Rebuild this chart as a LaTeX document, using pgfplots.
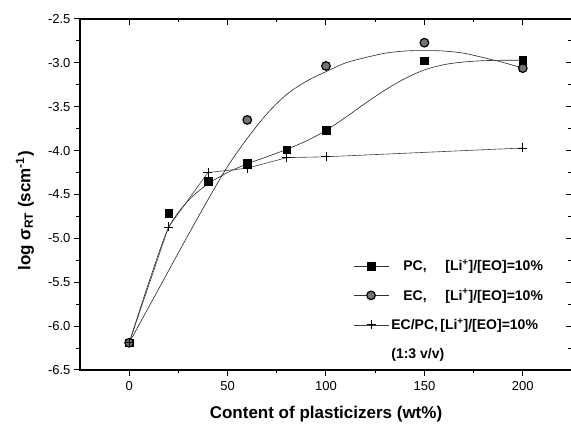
\documentclass[border=0pt]{standalone}
\usepackage{fontspec}
\setmainfont{Liberation Sans}
\usepackage{pgfplots}
\pgfplotsset{compat=1.18}

% Measured conductivities
\pgfplotstableread{
x y
0 -6.19
20 -4.71
40 -4.35
60 -4.14
80 -3.99
100 -3.77
150 -2.975
200 -2.97
}\pcdata
\pgfplotstableread{
x y
0 -6.19
60 -3.65
100 -3.035
150 -2.77
200 -3.06
}\ecdata
\pgfplotstableread{
x y
0 -6.19
20 -4.87
40 -4.25
60 -4.20
80 -4.08
100 -4.07
200 -3.97
}\ecpcdata
% Fitted trend lines
\pgfplotstableread{
x y
0 -6.19
10 -5.50
20 -4.88
30 -4.57
40 -4.38
50 -4.25
60 -4.15
70 -4.07
80 -3.985
90 -3.89
100 -3.77
110 -3.62
120 -3.46
130 -3.31
140 -3.18
150 -3.08
160 -3.02
170 -2.99
180 -2.975
190 -2.97
200 -2.97
}\pcfit
\pgfplotstableread{
x y
0 -6.19
10 -5.78
20 -5.37
30 -4.96
40 -4.56
50 -4.18
60 -3.86
70 -3.58
80 -3.36
90 -3.21
100 -3.10
110 -3.00
120 -2.94
130 -2.89
140 -2.865
150 -2.86
160 -2.865
170 -2.89
180 -2.94
190 -2.995
200 -3.06
}\ecfit

\begin{document}
\begin{tikzpicture}
\pgfplotsset{
  frame/.style={
    scale only axis, width=492pt, height=351pt,
    at={(0pt,0pt)}, anchor=south west,
    xmin=-25, xmax=225, ymin=-6.5, ymax=-2.5,
    xtick={0,50,...,200}, ytick={-6.5,-6,...,-2.5},
    minor x tick num=1, minor y tick num=1,
    axis line style={line width=1.5pt},
    major tick length=6pt, minor tick length=3.5pt,
    every tick/.style={black, line width=1pt},
  },
  % legend sample: a connecting line with the marker in its middle
  linemark/.style={legend image code/.code={
    \draw[black!80, line width=0.6pt] (0pt,0pt) -- (35pt,0pt);
    \draw[mark repeat=2, mark phase=2, only marks]
      plot coordinates {(0pt,0pt) (17.5pt,0pt) (35pt,0pt)};}},
}
% top and right ticks point into the plot
\begin{axis}[frame, xtick pos=right, ytick pos=right, tick align=inside,
  xticklabels={}, yticklabels={}]
\end{axis}
\begin{axis}[frame, xtick pos=left, ytick pos=left, tick align=outside,
  /pgf/number format/assume math mode=true,
  ticklabel style={font=\fontsize{13}{15}\selectfont},
  yticklabel style={/pgf/number format/.cd, fixed, fixed zerofill, precision=1},
  xticklabel style={yshift=-2pt},
  xlabel={Content of plasticizers (wt\%)},
  ylabel={log σ\textsubscript{RT} (scm\textsuperscript{-1})},
  every axis x label/.style={at={(axis description cs:0.5,-0.1396)}, anchor=base,
    font=\fontsize{17}{20}\selectfont\bfseries},
  every axis y label/.style={at={(axis description cs:-0.112,0.453)}, anchor=center, rotate=90,
    font=\fontsize{17}{20}\selectfont\bfseries},
  legend style={draw=none, fill=none, at={(axis description cs:0.555,0.322)}, anchor=north west,
    font=\fontsize{14}{16}\selectfont\bfseries, row sep=12pt, inner sep=0pt,
    nodes={inner sep=2.5pt}},
  legend cell align=left,
  legend image code/.code={\draw[mark repeat=2, mark phase=2]
    plot coordinates {(0pt,0pt) (17.5pt,0pt) (35pt,0pt)};},
]
% trend lines
\addplot[black!85, line width=0.6pt, smooth, forget plot] table {\pcfit};
\addplot[black!85, line width=0.6pt, smooth, forget plot] table {\ecfit};
% data
\addplot[linemark, mark=square*, mark size=3.8pt,
  mark options={fill=black, draw=black}, only marks] table {\pcdata};
\addlegendentry{\hspace{12pt}\makebox[42pt][l]{PC,}[Li\textsuperscript{+}]/[EO]=10\%}
\addplot[linemark, mark=*, mark size=4.3pt,
  mark options={fill=black!55, draw=black, line width=1.2pt}, only marks] table {\ecdata};
\addlegendentry{\hspace{12pt}\makebox[42pt][l]{EC,}[Li\textsuperscript{+}]/[EO]=10\%}
\addplot[black!75, line width=0.6pt, mark=+, mark size=4.5pt,
  mark options={draw=black, line width=0.8pt}] table {\ecpcdata};
\addlegendentry{\makebox[49pt][l]{EC/PC,}[Li\textsuperscript{+}]/[EO]=10\%}
\addlegendimage{empty legend}
\addlegendentry{(1:3 v/v)}
\end{axis}
\pgfresetboundingbox
\useasboundingbox (-80pt,-60pt) rectangle (491pt,370pt);
\end{tikzpicture}
\end{document}
